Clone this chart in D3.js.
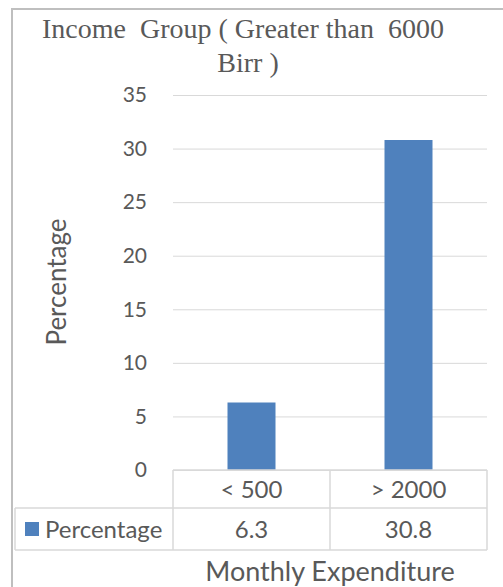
<!DOCTYPE html>
<html>
<head>
<meta charset="utf-8">
<script src="https://cdn.jsdelivr.net/npm/d3@7"></script>
<style>
  html, body { margin: 0; padding: 0; background: #fff; }
  svg { display: block; }
</style>
</head>
<body>
<svg id="chart" width="503" height="587"></svg>
<script>
// Chart data
const categories = ["< 500", "> 2000"];
const seriesName = "Percentage";
const values = [6.3, 30.8];
const yTicks = [0, 5, 10, 15, 20, 25, 30, 35];
const titleLines = ["Income  Group ( Greater than  6000", "Birr )"];
const yLabel = "Percentage";
const xLabel = "Monthly Expenditure";

const svg = d3.select("#chart");
const sans = "Lato, 'Open Sans', sans-serif";
const textColor = "#595959";
const gridColor = "#d9d9d9";
const barColor = "#4f81bd";

const plot = { left: 173, right: 487, top: 95, bottom: 470 };

// Outer chart frame
svg.append("rect")
  .attr("x", 12).attr("y", 9)
  .attr("width", 520).attr("height", 600)
  .attr("fill", "none").attr("stroke", "#bfbfbf").attr("stroke-width", 2);

// Title
svg.append("text")
  .attr("text-anchor", "middle")
  .attr("font-family", "'Liberation Serif', 'Times New Roman', serif")
  .attr("font-size", 28).attr("fill", textColor)
  .style("white-space", "pre")
  .selectAll("tspan").data(titleLines).join("tspan")
  .attr("x", (d, i) => i === 0 ? 243 : 248)
  .attr("y", (d, i) => i === 0 ? 38 : 72)
  .text(d => d);

const y = d3.scaleLinear().domain([0, 35]).range([plot.bottom, plot.top]);
const x = d3.scaleBand().domain(categories).range([plot.left, plot.right]).paddingInner(0).paddingOuter(0);

// Gridlines and tick labels
const yAxis = d3.axisLeft(y).tickValues(yTicks).tickSize(-(plot.right - plot.left)).tickPadding(26);
const gy = svg.append("g").attr("transform", `translate(${plot.left},0)`).call(yAxis);
gy.select(".domain").remove();
gy.selectAll(".tick line").attr("stroke", gridColor).attr("stroke-width", 1);
gy.selectAll(".tick text")
  .attr("font-family", sans).attr("font-size", 21).attr("fill", textColor);

// Bars
const barWidth = 48;
svg.append("g").selectAll("rect").data(values).join("rect")
  .attr("x", (d, i) => x(categories[i]) + x.bandwidth() / 2 - barWidth / 2)
  .attr("y", d => y(d))
  .attr("width", barWidth)
  .attr("height", d => y(0) - y(d))
  .attr("fill", barColor);

// Data table below the plot
const rowTop = plot.bottom, rowMid = 508, rowBot = 550, tableLeft = 15;
const tbl = svg.append("g").attr("stroke", gridColor).attr("stroke-width", 1.5);
tbl.append("line").attr("x1", plot.left).attr("x2", plot.right).attr("y1", rowTop).attr("y2", rowTop);
tbl.append("line").attr("x1", tableLeft).attr("x2", plot.right).attr("y1", rowMid).attr("y2", rowMid);
tbl.append("line").attr("x1", tableLeft).attr("x2", plot.right).attr("y1", rowBot).attr("y2", rowBot);
tbl.append("line").attr("x1", tableLeft).attr("x2", tableLeft).attr("y1", rowMid).attr("y2", rowBot);
[plot.left, ...categories.map(c => x(c) + x.bandwidth())].forEach(xx => {
  tbl.append("line").attr("x1", xx).attr("x2", xx).attr("y1", rowTop).attr("y2", rowBot);
});

svg.append("g").selectAll("text").data(categories).join("text")
  .attr("x", d => x(d) + x.bandwidth() / 2)
  .attr("y", 498)
  .attr("text-anchor", "middle")
  .attr("font-family", sans).attr("font-size", 24).attr("fill", textColor)
  .style("white-space", "pre")
  .text(d => d);

svg.append("g").selectAll("text").data(values).join("text")
  .attr("x", (d, i) => x(categories[i]) + x.bandwidth() / 2)
  .attr("y", 538)
  .attr("text-anchor", "middle")
  .attr("font-family", sans).attr("font-size", 24).attr("fill", textColor)
  .text(d => d);

// Legend key inside the table
svg.append("rect")
  .attr("x", 25).attr("y", 522).attr("width", 14).attr("height", 14)
  .attr("fill", barColor);
svg.append("text")
  .attr("x", 45).attr("y", 538)
  .attr("font-family", sans).attr("font-size", 24).attr("fill", textColor)
  .text(seriesName);

// Axis titles
svg.append("text")
  .attr("transform", `translate(66,282) rotate(-90)`)
  .attr("text-anchor", "middle")
  .attr("font-family", sans).attr("font-size", 26).attr("fill", textColor)
  .text(yLabel);

svg.append("text")
  .attr("x", 330).attr("y", 581)
  .attr("text-anchor", "middle")
  .attr("font-family", sans).attr("font-size", 27).attr("fill", textColor)
  .text(xLabel);
</script>
</body>
</html>
